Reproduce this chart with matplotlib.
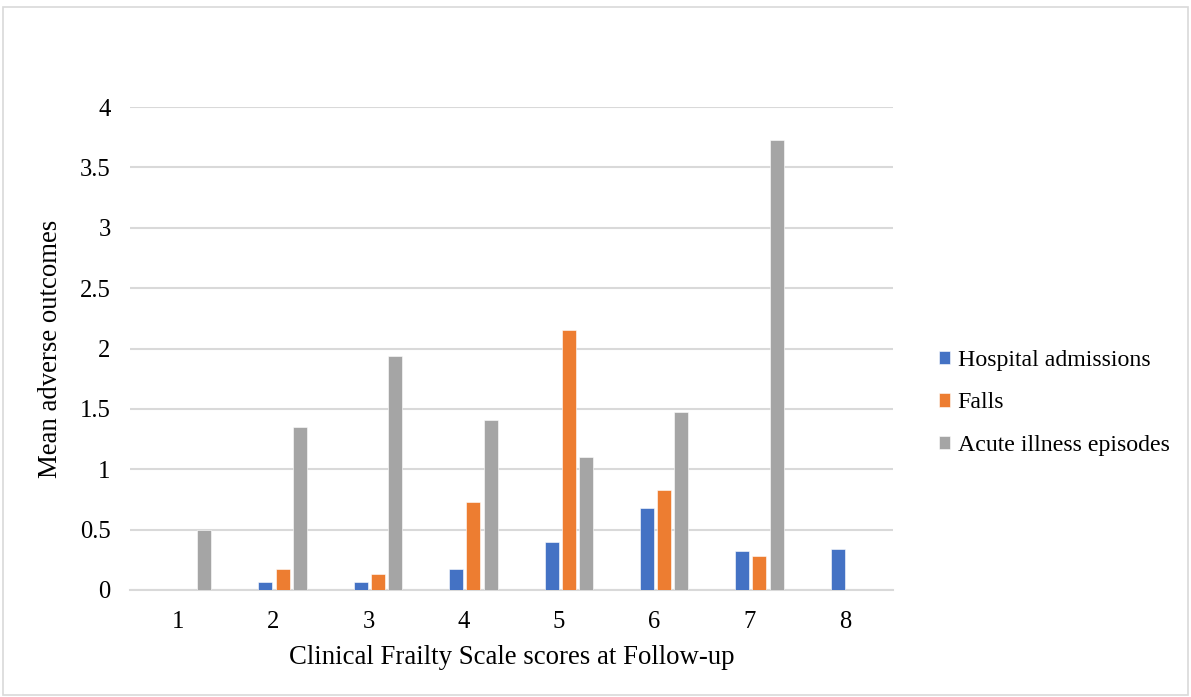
import numpy as np
import matplotlib.pyplot as plt
from matplotlib.patches import Rectangle

plt.rcParams['font.family'] = ['Liberation Serif', 'DejaVu Serif']

# data
scores = ["1", "2", "3", "4", "5", "6", "7", "8"]
hospital = [0, 0.07, 0.066, 0.17, 0.40, 0.68, 0.32, 0.34]
falls = [0, 0.17, 0.13, 0.73, 2.15, 0.83, 0.28, 0]
acute = [0.50, 1.35, 1.94, 1.41, 1.10, 1.47, 3.73, 0]
series = ["Hospital admissions", "Falls", "Acute illness episodes"]
colors = ["#4472C4", "#ED7D31", "#A5A5A5"]

fig = plt.figure(figsize=(11.91, 6.97), dpi=100)
fig.patches.append(Rectangle((3 / 1191, 2 / 697), 1185 / 1191, 688 / 697,
                             transform=fig.transFigure, fill=False,
                             edgecolor="#D9D9D9", lw=1.2))
ax = fig.add_axes([130 / 1191, 107 / 697, 763 / 1191, 483 / 697])

x = np.arange(len(scores))
pitch = 0.18
width = 0.147
for k, (vals, name, c) in enumerate(zip([hospital, falls, acute], series, colors)):
    ax.bar(x - 0.08 + k * pitch, vals, width, color=c, label=name,
           edgecolor="white", linewidth=0.4, zorder=3)

ax.set_xlim(-0.5, len(scores) - 0.5)
ax.set_ylim(0, 4)
ax.set_yticks(np.arange(0, 4.01, 0.5))
ax.set_yticklabels(["0", "0.5", "1", "1.5", "2", "2.5", "3", "3.5", "4"])
ax.set_xticks(x)
ax.set_xticklabels(scores)
ax.grid(axis="y", color="#D9D9D9", lw=1.5, zorder=0)
for s in ["top", "right", "left"]:
    ax.spines[s].set_visible(False)
ax.spines["bottom"].set_color("#D9D9D9")
ax.spines["bottom"].set_linewidth(1.5)
ax.tick_params(length=0, labelsize=17.7, colors="black")
ax.tick_params(axis="y", pad=14)
ax.tick_params(axis="x", pad=15)

ax.set_xlabel("Clinical Frailty Scale scores at Follow-up", fontsize=19.3, labelpad=9)
ax.set_ylabel("Mean adverse outcomes", fontsize=19.3, labelpad=12)

fig.legend(loc="center left", bbox_to_anchor=(917 / 1191, 0.422), frameon=False,
           fontsize=17.2, handlelength=0.5, handleheight=0.5, handletextpad=0.3,
           labelspacing=0.9)

fig.savefig("out.png", dpi=100)
